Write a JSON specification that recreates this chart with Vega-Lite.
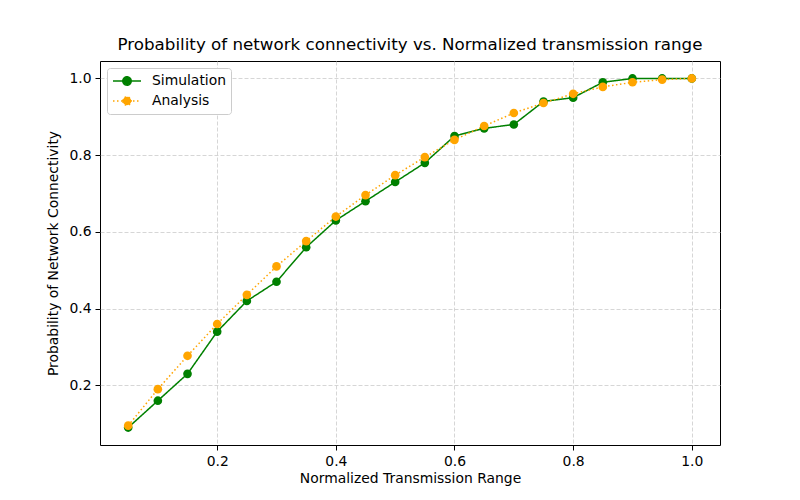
{
  "$schema": "https://vega.github.io/schema/vega-lite/v6.json",
  "autosize": "none",
  "width": 620,
  "height": 384,
  "padding": {"left": 100, "top": 61, "right": 80, "bottom": 55},
  "background": "white",
  "title": {
    "text": "Probability of network connectivity vs. Normalized transmission range",
    "font": "DejaVu Sans",
    "fontSize": 16.7,
    "fontWeight": "normal",
    "color": "black",
    "anchor": "middle",
    "offset": 7
  },
  "config": {
    "view": {"stroke": "black", "strokeWidth": 1},
    "axis": {
      "labelFont": "DejaVu Sans",
      "labelFontSize": 13.9,
      "labelColor": "black",
      "titleFont": "DejaVu Sans",
      "titleFontSize": 13.9,
      "titleFontWeight": "normal",
      "titleColor": "black",
      "tickColor": "black",
      "tickSize": 5,
      "labelPadding": 4,
      "domain": false,
      "grid": true,
      "gridColor": "#cccccc",
      "gridDash": [4, 2],
      "gridWidth": 0.8
    }
  },
  "data": {
    "values": [
      {"x": 0.05, "p": 0.09, "series": "Simulation"},
      {"x": 0.10, "p": 0.16, "series": "Simulation"},
      {"x": 0.15, "p": 0.23, "series": "Simulation"},
      {"x": 0.20, "p": 0.34, "series": "Simulation"},
      {"x": 0.25, "p": 0.42, "series": "Simulation"},
      {"x": 0.30, "p": 0.47, "series": "Simulation"},
      {"x": 0.35, "p": 0.56, "series": "Simulation"},
      {"x": 0.40, "p": 0.63, "series": "Simulation"},
      {"x": 0.45, "p": 0.68, "series": "Simulation"},
      {"x": 0.50, "p": 0.73, "series": "Simulation"},
      {"x": 0.55, "p": 0.78, "series": "Simulation"},
      {"x": 0.60, "p": 0.85, "series": "Simulation"},
      {"x": 0.65, "p": 0.87, "series": "Simulation"},
      {"x": 0.70, "p": 0.88, "series": "Simulation"},
      {"x": 0.75, "p": 0.94, "series": "Simulation"},
      {"x": 0.80, "p": 0.95, "series": "Simulation"},
      {"x": 0.85, "p": 0.99, "series": "Simulation"},
      {"x": 0.90, "p": 1.00, "series": "Simulation"},
      {"x": 0.95, "p": 1.00, "series": "Simulation"},
      {"x": 1.00, "p": 1.00, "series": "Simulation"},
      {"x": 0.05, "p": 0.095, "series": "Analysis"},
      {"x": 0.10, "p": 0.19, "series": "Analysis"},
      {"x": 0.15, "p": 0.277, "series": "Analysis"},
      {"x": 0.20, "p": 0.36, "series": "Analysis"},
      {"x": 0.25, "p": 0.436, "series": "Analysis"},
      {"x": 0.30, "p": 0.51, "series": "Analysis"},
      {"x": 0.35, "p": 0.576, "series": "Analysis"},
      {"x": 0.40, "p": 0.64, "series": "Analysis"},
      {"x": 0.45, "p": 0.696, "series": "Analysis"},
      {"x": 0.50, "p": 0.748, "series": "Analysis"},
      {"x": 0.55, "p": 0.795, "series": "Analysis"},
      {"x": 0.60, "p": 0.84, "series": "Analysis"},
      {"x": 0.65, "p": 0.876, "series": "Analysis"},
      {"x": 0.70, "p": 0.91, "series": "Analysis"},
      {"x": 0.75, "p": 0.936, "series": "Analysis"},
      {"x": 0.80, "p": 0.96, "series": "Analysis"},
      {"x": 0.85, "p": 0.978, "series": "Analysis"},
      {"x": 0.90, "p": 0.99, "series": "Analysis"},
      {"x": 0.95, "p": 0.997, "series": "Analysis"},
      {"x": 1.00, "p": 1.00, "series": "Analysis"}
    ]
  },
  "encoding": {
    "x": {
      "field": "x",
      "type": "quantitative",
      "title": "Normalized Transmission Range",
      "scale": {"domain": [0.0025, 1.0475], "nice": false, "zero": false},
      "axis": {"values": [0.2, 0.4, 0.6, 0.8, 1.0], "format": ".1f"}
    },
    "y": {
      "field": "p",
      "type": "quantitative",
      "title": "Probability of Network Connectivity",
      "scale": {"domain": [0.0445, 1.0455], "nice": false, "zero": false},
      "axis": {"values": [0.2, 0.4, 0.6, 0.8, 1.0], "format": ".1f", "titlePadding": 8}
    },
    "color": {
      "field": "series",
      "type": "nominal",
      "scale": {"domain": ["Simulation", "Analysis"], "range": ["#008000", "#FFA500"]},
      "legend": {
        "title": null,
        "orient": "top-left",
        "offset": 7,
        "padding": 5,
        "fillColor": "white",
        "strokeColor": "#cccccc",
        "cornerRadius": 3,
        "labelFont": "DejaVu Sans",
        "labelFontSize": 13.9,
        "labelColor": "black",
        "labelOffset": 24,
        "rowPadding": 4,
        "symbolType": "M-1,0H3M0.4,0A0.6,0.6 0 1 1 1.6,0A0.6,0.6 0 1 1 0.4,0Z",
        "symbolSize": 196,
        "symbolStrokeWidth": 1.5,
        "symbolOpacity": 1
      }
    },
    "order": {"field": "x", "type": "quantitative"}
  },
  "layer": [
    {
      "mark": {"type": "line", "strokeWidth": 1.5, "strokeCap": "butt"},
      "encoding": {
        "strokeDash": {
          "field": "series",
          "type": "nominal",
          "scale": {"domain": ["Simulation", "Analysis"], "range": [[1, 0], [1.5, 2.5]]},
          "legend": null
        }
      }
    },
    {
      "mark": {"type": "point", "filled": true, "opacity": 1, "size": 75, "shape": "circle"}
    }
  ]
}
